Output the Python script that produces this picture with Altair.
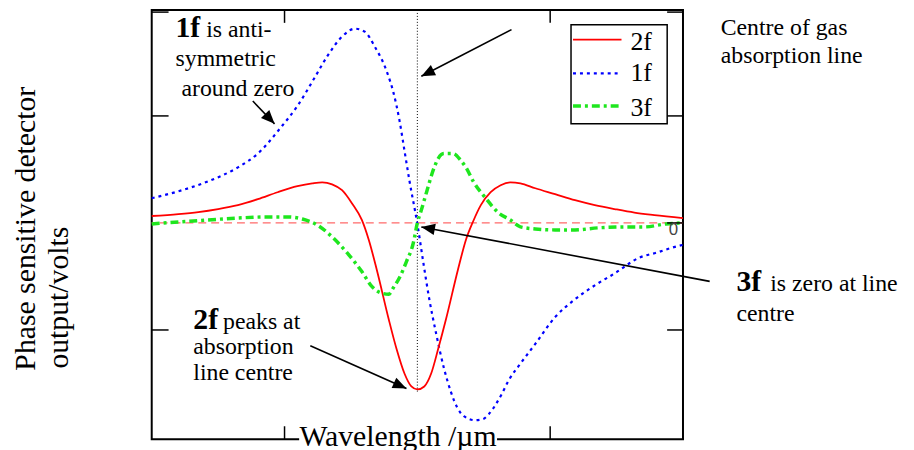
import math
import altair as alt
import pandas as pd

# ---- series (x: wavelength offset, y: volts) ----
x_2f = [-2.000, -1.799, -1.649, -1.500, -1.351, -1.201, -1.052, -0.903, -0.791, -0.716,
        -0.642, -0.567, -0.493, -0.418, -0.366, -0.306, -0.216, -0.157, -0.097, -0.045,
        0.000, 0.052, 0.104, 0.157, 0.216, 0.306, 0.366, 0.418, 0.478, 0.552,
        0.627, 0.701, 0.776, 0.888, 1.037, 1.187, 1.336, 1.485, 1.634, 1.784, 2.000]
y_2f = [0.065, 0.083, 0.102, 0.130, 0.167, 0.222, 0.287, 0.343, 0.370, 0.380,
        0.361, 0.306, 0.185, 0.028, -0.157, -0.435, -0.898, -1.176, -1.407, -1.528,
        -1.556, -1.528, -1.407, -1.176, -0.898, -0.435, -0.157, 0.009, 0.167, 0.287,
        0.352, 0.380, 0.370, 0.324, 0.269, 0.213, 0.167, 0.130, 0.097, 0.074, 0.046]

x_1f = [-2.000, -1.799, -1.575, -1.351, -1.201, -1.030, -0.903, -0.776, -0.679, -0.567,
        -0.470, -0.396, -0.321, -0.231, -0.179, -0.134, -0.097, -0.060, 0.000, 0.045,
        0.090, 0.142, 0.201, 0.254, 0.299, 0.351, 0.433, 0.493, 0.537, 0.634,
        0.687, 0.776, 0.888, 1.037, 1.187, 1.336, 1.485, 1.672, 1.799, 1.918, 2.000]
y_1f = [0.231, 0.296, 0.389, 0.519, 0.648, 0.889, 1.093, 1.352, 1.556, 1.741,
        1.815, 1.787, 1.648, 1.417, 1.213, 0.954, 0.676, 0.398, -0.009, -0.370,
        -0.713, -1.037, -1.361, -1.583, -1.722, -1.806, -1.843, -1.833, -1.787, -1.602,
        -1.472, -1.315, -1.130, -0.880, -0.713, -0.583, -0.472, -0.324, -0.278, -0.231, -0.204]

x_3f = [-2.000, -1.799, -1.575, -1.351, -1.127, -0.978, -0.866, -0.754, -0.642, -0.530,
        -0.418, -0.343, -0.284, -0.216, -0.179, -0.134, -0.082, -0.030, 0.000, 0.030,
        0.067, 0.127, 0.157, 0.201, 0.269, 0.328, 0.366, 0.425, 0.515, 0.612,
        0.701, 0.776, 0.888, 1.037, 1.187, 1.358, 1.560, 1.709, 1.873, 2.000]
y_3f = [-0.009, 0.009, 0.028, 0.046, 0.056, 0.056, 0.037, -0.019, -0.130, -0.278,
        -0.454, -0.593, -0.648, -0.667, -0.602, -0.509, -0.361, -0.185, 0.000, 0.120,
        0.278, 0.519, 0.602, 0.648, 0.648, 0.583, 0.519, 0.380, 0.231, 0.093,
        0.028, -0.037, -0.056, -0.065, -0.065, -0.046, -0.037, -0.037, -0.009, 0.000]

series_names = ["2f", "1f", "3f"]

# ---- annotation texts ----
reg_text = ["is anti-", "symmetric", "around zero", "Centre of gas", "absorption line",
            "is zero at line", "centre", "peaks at", "absorption", "line centre"]
reg_x = [-1.590, -1.821, -1.776, 2.284, 2.284, 2.657, 2.403, -1.463, -1.687, -1.687]
reg_y = [1.741, 1.463, 1.185, 1.759, 1.491, -0.639, -0.917, -0.991, -1.222, -1.472]

bold_text = ["1f", "3f", "2f"]
bold_x = [-1.821, 2.403, -1.687]
bold_y = [1.741, -0.639, -0.991]

arrow_x1 = [-1.239, 0.709, 2.201, -0.806]
arrow_y1 = [1.139, 1.806, -0.546, -1.148]
arrow_x2 = [-1.075, 0.030, 0.030, -0.082]
arrow_y2 = [0.926, 1.370, -0.037, -1.546]

ytitle_lines = ["Phase sensitive detector", "output/volts"]
ytitle_x = [-2.881, -2.627]
ytitle_y = [-1.380, -1.361]

xtitle = "Wavelength /\u00b5m"

FONT = "Liberation Serif"
XPX, YPX = 134.0, 108.0  # pixel per unit, used for arrowhead angles

xsc = alt.Scale(domain=[-2, 2], nice=False, zero=False)
ysc = alt.Scale(domain=[-2.02, 1.99], nice=False, zero=False)
X = alt.X("x:Q", scale=xsc, axis=None)
Y = alt.Y("y:Q", scale=ysc, axis=None)

styles = {
    "2f": dict(color="#ff0000", strokeWidth=1.8),
    "1f": dict(color="#0000ff", strokeWidth=2.2, strokeDash=[3, 4]),
    "3f": dict(color="#1ee61e", strokeWidth=3.5, strokeDash=[8, 4, 3, 4]),
}

layers = []

# zero line and centre line
layers.append(alt.Chart(pd.DataFrame({"y": [0.0]})).mark_rule(
    color="#ff6a6a", strokeDash=[8, 5], strokeWidth=1.2).encode(y=Y))
layers.append(alt.Chart(pd.DataFrame({"x": [0.0], "y": [1.99], "y2": [-1.59]})).mark_rule(
    color="black", strokeDash=[1, 2], strokeWidth=1).encode(x=X, y=Y, y2="y2:Q"))

# curves
data = {"2f": (x_2f, y_2f), "1f": (x_1f, y_1f), "3f": (x_3f, y_3f)}
for name in ["1f", "2f", "3f"]:
    xs, ys = data[name]
    layers.append(alt.Chart(pd.DataFrame({"x": xs, "y": ys})).mark_line(
        interpolate="monotone", **styles[name]).encode(x=X, y=Y))

# x title with white background
layers.append(alt.Chart(pd.DataFrame({"x": [-0.89], "x2": [0.60], "y": [-1.87], "y2": [-2.12]})).mark_rect(
    fill="white").encode(x=X, x2="x2:Q", y=Y, y2="y2:Q"))
layers.append(alt.Chart(pd.DataFrame({"x": [-0.146], "y": [-2.08], "t": [xtitle]})).mark_text(
    font=FONT, fontSize=30, align="center", baseline="alphabetic", color="black").encode(
    x=X, y=Y, text="t:N"))

# y title
layers.append(alt.Chart(pd.DataFrame({"x": ytitle_x, "y": ytitle_y, "t": ytitle_lines})).mark_text(
    font=FONT, fontSize=30, align="left", baseline="alphabetic", angle=270, color="black").encode(
    x=X, y=Y, text="t:N"))

# inward ticks
tk = dict(color="black", strokeWidth=1.5)
layers.append(alt.Chart(pd.DataFrame({"y": [-1.0, 1.0, 1.97]})).mark_rule(**tk).encode(
    y=Y, x=alt.value(0), x2=alt.value(17)))
layers.append(alt.Chart(pd.DataFrame({"y": [-1.0, 0.0, 1.0, 1.97]})).mark_rule(**tk).encode(
    y=Y, x=alt.value(520), x2=alt.value(536)))
layers.append(alt.Chart(pd.DataFrame({"x": [-1.0, 1.0]})).mark_rule(**tk).encode(
    x=X, y=alt.value(433), y2=alt.value(420)))
layers.append(alt.Chart(pd.DataFrame({"x": [-1.0, 1.0]})).mark_rule(**tk).encode(
    x=X, y=alt.value(0), y2=alt.value(13)))
layers.append(alt.Chart(pd.DataFrame({"x": [1.963], "y": [-0.111], "t": ["0"]})).mark_text(
    font="Liberation Sans", fontSize=17, align="right", baseline="alphabetic", color="#444").encode(
    x=X, y=Y, text="t:N"))

# legend
layers.append(alt.Chart(pd.DataFrame({"x": [1.157], "x2": [1.881], "y": [1.852], "y2": [0.926]})).mark_rect(
    fill="white", stroke="black", strokeWidth=1.5).encode(x=X, x2="x2:Q", y=Y, y2="y2:Q"))
leg_line_y = [1.713, 1.398, 1.093]
leg_text_y = [1.62, 1.324, 1.0]
for name, ly in zip(series_names, leg_line_y):
    layers.append(alt.Chart(pd.DataFrame({"x": [1.172], "x2": [1.537], "y": [ly]})).mark_rule(
        **styles[name]).encode(x=X, x2="x2:Q", y=Y))
layers.append(alt.Chart(pd.DataFrame({"x": [1.604] * 3, "y": leg_text_y, "t": series_names})).mark_text(
    font=FONT, fontSize=26, align="left", baseline="alphabetic", color="black").encode(
    x=X, y=Y, text="t:N"))

# annotations
layers.append(alt.Chart(pd.DataFrame({"x": reg_x, "y": reg_y, "t": reg_text})).mark_text(
    font=FONT, fontSize=24, align="left", baseline="alphabetic", color="black").encode(
    x=X, y=Y, text="t:N"))
layers.append(alt.Chart(pd.DataFrame({"x": bold_x, "y": bold_y, "t": bold_text})).mark_text(
    font=FONT, fontSize=30, fontWeight="bold", align="left", baseline="alphabetic", color="black").encode(
    x=X, y=Y, text="t:N"))

angles = []
for x1, y1, x2, y2 in zip(arrow_x1, arrow_y1, arrow_x2, arrow_y2):
    dx = (x2 - x1) * XPX
    dy = -(y2 - y1) * YPX
    angles.append(math.degrees(math.atan2(dx, -dy)) % 360)

arr = pd.DataFrame({"x": arrow_x1, "y": arrow_y1, "x2": arrow_x2, "y2": arrow_y2, "a": angles})
layers.append(alt.Chart(arr).mark_rule(color="black", strokeWidth=1.6).encode(
    x=X, y=Y, x2="x2:Q", y2="y2:Q"))
layers.append(alt.Chart(arr).mark_point(
    shape="M0,0L-0.42,1L0.42,1Z", filled=True, color="black", opacity=1, size=760).encode(
    x=alt.X("x2:Q", scale=xsc, axis=None), y=alt.Y("y2:Q", scale=ysc, axis=None),
    angle=alt.Angle("a:Q", scale=None)))

chart = alt.layer(*layers).properties(
    width=536, height=433,
    autosize=alt.AutoSizeParams(type="none"),
    padding={"left": 145, "top": 0, "right": 225, "bottom": 12},
    background="white",
).configure_view(stroke="black", strokeWidth=2).configure_text(font=FONT)

chart.save("out.html", embed_options={"renderer": "svg", "actions": False})
